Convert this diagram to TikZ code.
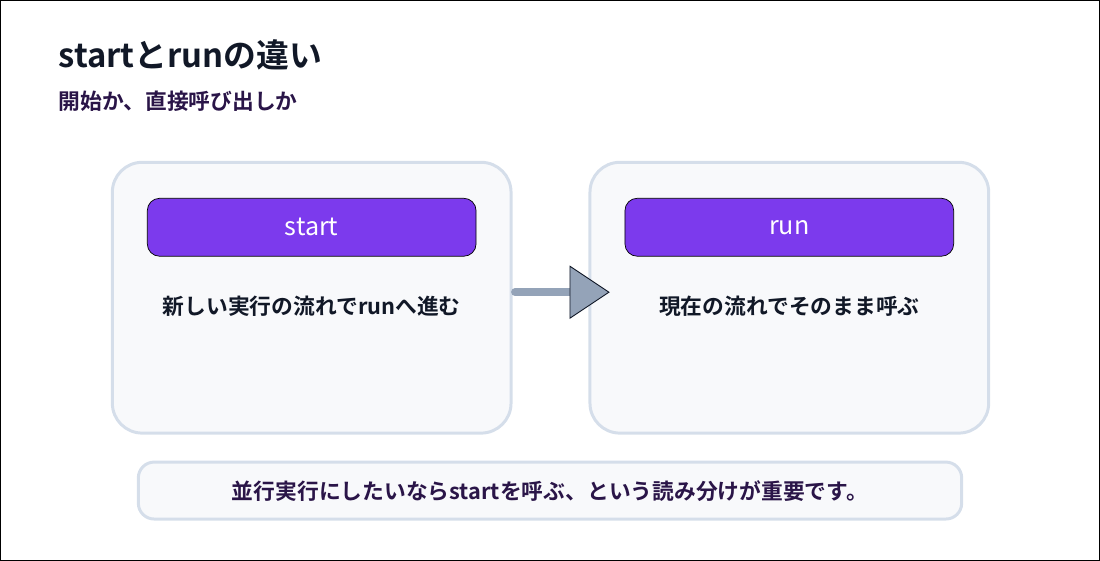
\documentclass[tikz,border=0pt]{standalone}
\usepackage{fontspec}
\setmainfont{Noto Sans CJK JP}
\newfontfamily\jpbold{Noto Sans CJK JP}[BoldFont={* Bold}]
\usetikzlibrary{positioning}
\definecolor{cardfill}{HTML}{F8F9FB}
\definecolor{cardline}{HTML}{D5DEEA}
\definecolor{pillfill}{HTML}{7C3AED}
\definecolor{arrowgray}{HTML}{94A3B8}
\definecolor{titleink}{HTML}{111827}
\definecolor{subink}{HTML}{2A1548}
\tikzset{
  card/.style={draw=cardline,line width=1.7pt,fill=cardfill,rounded corners=17pt},
  pill/.style={draw=black,line width=0.4pt,fill=pillfill,rounded corners=7pt,
    minimum width=329*0.02cm,minimum height=58*0.02cm,text=white,font=\fontsize{14.3}{17}\selectfont},
  bodytext/.style={font=\jpbold\bfseries\fontsize{12.4}{15}\selectfont,text=titleink}
}
\begin{document}
\begin{tikzpicture}[x=0.02cm,y=-0.02cm]
  \draw[black,line width=0.5pt] (0,0) rectangle (1100,560);
  \useasboundingbox (0,0) rectangle (1100,560);

  % heading
  \node[anchor=west,text=titleink,font=\jpbold\bfseries\fontsize{18.7}{22}\selectfont] (title) at (52,54) {startとrunの違い};
  \node[anchor=west,text=subink,font=\jpbold\bfseries\fontsize{12.4}{15}\selectfont] (subtitle) at (52,101) {開始か、直接呼び出しか};

  % cards
  \draw[card] (112,162) rectangle (511,433);
  \draw[card] (590,162) rectangle (989,433);
  \node[pill] (startpill) at (311.5,227) {start};
  \node[pill] (runpill) at (789.5,227) {run};
  \node[bodytext] (startbody) at (311.5,306) {新しい実行の流れでrunへ進む};
  \node[bodytext] (runbody) at (789.5,306) {現在の流れでそのまま呼ぶ};

  % arrow
  \coordinate (arrowtail) at (515,292);
  \coordinate (arrowtip) at (570,292);
  \draw[arrowgray,line width=4.5pt,line cap=round] (arrowtail) -- (arrowtip);
  \draw[fill=arrowgray,draw=titleink,line width=0.5pt] (570,266) -- (609,292) -- (570,318) -- cycle;

  % footer
  \draw[card,rounded corners=9pt] (138,462) rectangle (962,519);
  \node[font=\jpbold\bfseries\fontsize{12.4}{15}\selectfont,text=subink] (footer) at (550,491) {並行実行にしたいならstartを呼ぶ、という読み分けが重要です。};
\end{tikzpicture}
\end{document}
